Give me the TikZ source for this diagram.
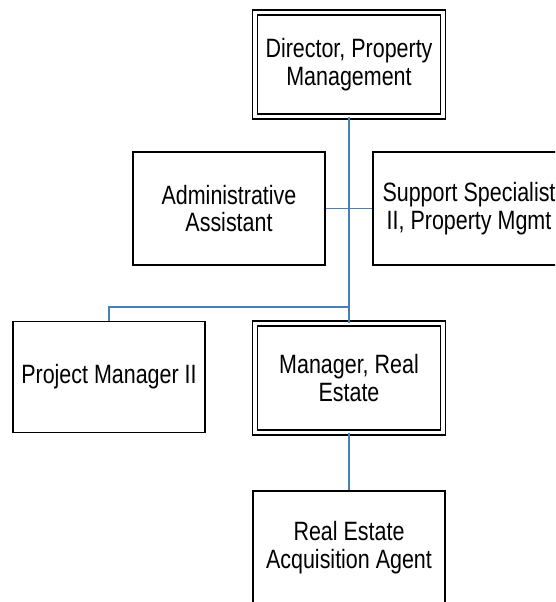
\documentclass[tikz,border=0pt]{standalone}
\usepackage{fontspec}
\setmainfont[FakeStretch=0.81]{Liberation Sans}
\begin{document}
\begin{tikzpicture}[x=1pt,y=-1pt,
  post/.style={draw=black, line width=1.8pt, fill=white, align=center,
    inner sep=0pt, font=\fontsize{26.5}{27.5}\selectfont},
  head/.style={post, double=white, double distance=3.2pt, line width=1.7pt},
  link/.style={draw={rgb,255:red,74;green,126;blue,187}, line width=1.8pt}]
\useasboundingbox (0,0) rectangle (555,602);
\clip (0,0) rectangle (555,602);
% reporting lines
\coordinate (split) at (349,307);
\coordinate (pmtop) at (109,307);
% boxes
\node[head, minimum width=188pt, minimum height=104pt] (dir) at (349,64.5) {Director, Property\\Management};
\node[post, minimum width=192pt, minimum height=113pt] (adm) at (229,208.5) {Administrative\\Assistant};
\node[post, minimum width=192pt, minimum height=113pt] (sup) at (469,208.5) {Support Specialist\\II, Property Mgmt};
\node[post, minimum width=192pt, minimum height=111pt] (pm) at (109,377) {Project Manager II};
\node[head, minimum width=188pt, minimum height=109pt] (mre) at (349,378) {Manager, Real\\Estate};
\node[post, minimum width=192pt, minimum height=113pt] (agt) at (349,547.5) {Real Estate\\Acquisition Agent};
% connectors
\draw[link] (dir.south) -- (split) -- (mre.north);
\draw[link] (adm.east) -- (sup.west);
\draw[link] (split) -- (pmtop) -- (pm.north);
\draw[link] (mre.south) -- (agt.north);
\end{tikzpicture}
\end{document}
